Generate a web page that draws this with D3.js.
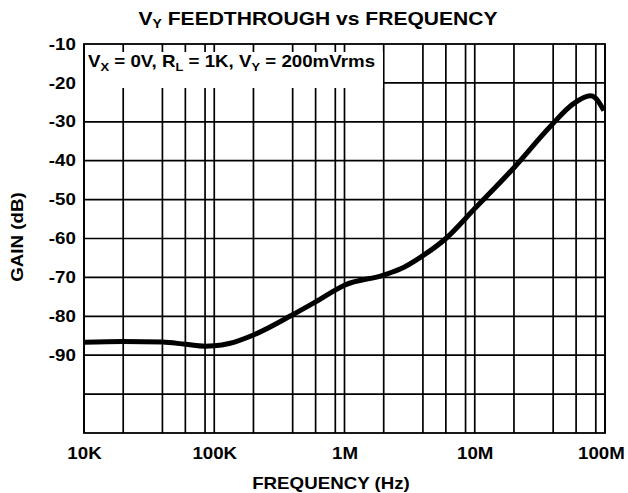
<!DOCTYPE html>
<html><head><meta charset="utf-8">
<script src="https://cdn.jsdelivr.net/npm/d3@7"></script>
<style>
body{margin:0;background:#fff}
svg{display:block}
text{font-family:"Liberation Sans",Arial,Helvetica,sans-serif;font-weight:bold;fill:#000}
</style>
</head><body>
<svg id="chart" width="628" height="493"></svg>
<script>
// ---- data ----
const frequencies = [10e3, 20e3, 40e3, 60e3, 85e3, 100e3, 130e3, 200e3, 400e3, 600e3, 1e6, 2e6, 2.7e6, 3.8e6, 6e6, 10e6, 20e6, 38e6, 57e6, 77e6, 84e6, 98e6];
const gainDb      = [-86.7, -86.5, -86.6, -87.2, -87.7, -87.6, -87.0, -84.8, -79.6, -76.3, -72.0, -69.4, -67.8, -64.9, -60.0, -52.3, -41.8, -31.2, -25.4, -23.3, -23.8, -27.1];
const xTickValues = [1e4, 1e5, 1e6, 1e7, 1e8];
const xTickLabels = ["10K", "100K", "1M", "10M", "100M"];
const minorMultipliers = [2, 4, 6, 8.5];
const yTickValues = [-10, -20, -30, -40, -50, -60, -70, -80, -90];
const yGridValues = [-20, -30, -40, -50, -60, -70, -80, -90, -100];
const yDomain = [-110, -10];

const STRETCH = 1.17;
const svg = d3.select("#chart");
const L = 84, R = 605, T = 44, B = 433;

const x = d3.scaleLog().domain([1e4, 1e8]).range([L, R]);
const y = d3.scaleLinear().domain(yDomain).range([B, T]);

// grid
const g = svg.append("g").attr("stroke", "#000").attr("stroke-width", 1.7);
const vLines = [];
xTickValues.forEach(d => { vLines.push(d); if (d < 1e8) minorMultipliers.forEach(m => vLines.push(d * m)); });
g.selectAll("line.v").data(vLines).join("line").attr("class", "v")
  .attr("x1", d => x(d)).attr("x2", d => x(d)).attr("y1", T).attr("y2", B);
g.selectAll("line.h").data(yGridValues).join("line").attr("class", "h")
  .attr("x1", L).attr("x2", R).attr("y1", d => y(d)).attr("y2", d => y(d));

// annotation box
svg.append("rect").attr("x", L + 1).attr("y", 52).attr("width", 298).attr("height", 36).attr("fill", "#fff");
const ann = svg.append("text").attr("transform", `translate(88,67) scale(${STRETCH},1)`).attr("font-size", 16);
const parts = [["V"], ["X", 1], [" = 0V, R"], ["L", 1], [" = 1K, V"], ["Y", 1], [" = 200mVrms"]];
parts.forEach(p => {
  const t = ann.append("tspan").text(p[0]);
  if (p[1]) t.attr("font-size", 11).attr("dy", 4);
  else if (ann.selectAll("tspan").size() > 1) t.attr("dy", -4);
});

// curve
const pts = frequencies.map((f, i) => ({f, g: gainDb[i]}));
svg.append("path").datum(pts)
  .attr("fill", "none").attr("stroke", "#000").attr("stroke-width", 5).attr("stroke-linejoin", "round")
  .attr("d", d3.line().x(d => x(d.f)).y(d => y(d.g)).curve(d3.curveMonotoneX));

// frame
svg.append("rect").attr("x", L).attr("y", T).attr("width", R - L).attr("height", B - T)
  .attr("fill", "none").attr("stroke", "#000").attr("stroke-width", 1.8);

// axes
const xa = svg.append("g").attr("transform", `translate(0,${B})`)
  .call(d3.axisBottom(x).tickValues(xTickValues).tickFormat((d, i) => xTickLabels[i]).tickSize(0).tickPadding(15));
xa.select(".domain").remove();
xa.selectAll("text").attr("font-size", 16).attr("fill", "#000")
  .attr("transform", `scale(${STRETCH},1)`)
  .attr("dx", (d, i) => i === xTickValues.length - 1 ? -3.5 : 0);

const ya = svg.append("g").attr("transform", `translate(${L},0)`)
  .call(d3.axisLeft(y).tickValues(yTickValues).tickSize(0).tickPadding(7).tickFormat(d => String(d)));
ya.select(".domain").remove();
ya.selectAll("text").attr("font-size", 16).attr("fill", "#000").attr("transform", `scale(${STRETCH},1)`);

// titles
const title = svg.append("text").attr("text-anchor", "middle").attr("font-size", 18)
  .attr("transform", `translate(318,25) scale(${STRETCH},1)`);
title.append("tspan").text("V");
title.append("tspan").text("Y").attr("font-size", 12).attr("dy", 3);
title.append("tspan").text(" FEEDTHROUGH vs FREQUENCY").attr("dy", -3);

svg.append("text").attr("text-anchor", "middle").attr("font-size", 16)
  .attr("transform", `translate(331,489) scale(${STRETCH},1)`).text("FREQUENCY (Hz)");
svg.append("text").attr("text-anchor", "middle").attr("font-size", 16)
  .attr("transform", `translate(23,237) rotate(-90) scale(${STRETCH},1)`).text("GAIN (dB)");
</script>
</body></html>
